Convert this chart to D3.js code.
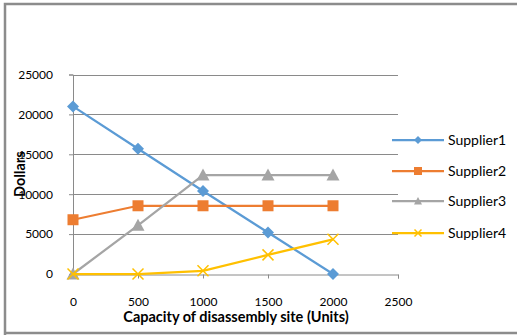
<!DOCTYPE html>
<html>
<head>
<meta charset="utf-8">
<script src="https://cdn.jsdelivr.net/npm/d3@7"></script>
<style>
  html, body { margin: 0; padding: 0; background: #fff; }
  svg { display: block; }
  text { font-family: Lato, "Open Sans", sans-serif; fill: #000; }
</style>
</head>
<body>
<svg id="chart" width="517" height="335"></svg>
<script>
// Capacity values (x) and cost per supplier (y, dollars)
const capacities = [0, 500, 1000, 1500, 2000];
const supplier1 = [21000, 15700, 10400, 5200, 0];
const supplier2 = [6800, 8550, 8550, 8550, 8550];
const supplier3 = [0, 6100, 12400, 12400, 12400];
const supplier4 = [0, 0, 400, 2400, 4350];
const seriesNames = ["Supplier1", "Supplier2", "Supplier3", "Supplier4"];
const seriesColors = ["#5b9bd5", "#ed7d31", "#a5a5a5", "#ffc000"];
const seriesSymbols = ["diamond", "square", "triangle", "cross"];
const xTicks = [0, 500, 1000, 1500, 2000, 2500];
const yTicks = [0, 5000, 10000, 15000, 20000, 25000];

const series = [supplier1, supplier2, supplier3, supplier4].map((vals, i) => ({
  name: seriesNames[i], color: seriesColors[i], symbol: seriesSymbols[i],
  points: vals.map((v, j) => ({ x: capacities[j], y: v }))
}));

const svg = d3.select("#chart");

// Outer frame
svg.append("path")
  .attr("d", "M5,335 L5,4 L517,4 M5,333 L517,333")
  .attr("fill", "none").attr("stroke", "#8c8c8c").attr("stroke-width", 2.5);

const x = d3.scaleLinear().domain([0, 2500]).range([73, 398]);
const y = d3.scaleLinear().domain([0, 25000]).range([274, 74.5]);

// Horizontal gridlines
svg.append("g").selectAll("line").data(yTicks.filter(t => t > 0)).join("line")
  .attr("x1", x(0)).attr("x2", x(2500))
  .attr("y1", d => Math.round(y(d)) + 0.5).attr("y2", d => Math.round(y(d)) + 0.5)
  .attr("stroke", "#8a8a8a").attr("stroke-width", 1);

// Y axis
const yAxis = svg.append("g").attr("transform", `translate(${x(0)},0)`)
  .call(d3.axisLeft(y).tickValues(yTicks).tickSize(4).tickPadding(16).tickFormat(d3.format("d")));
yAxis.select(".domain").attr("stroke", "#8a8a8a");
yAxis.selectAll(".tick line").attr("stroke", "#8a8a8a");
yAxis.selectAll("text").attr("font-size", 12).attr("font-family", "Lato, sans-serif");

// X axis
const xAxis = svg.append("g").attr("transform", `translate(0,${Math.round(y(0)) + 0.5})`)
  .call(d3.axisBottom(x).tickValues(xTicks).tickSize(4).tickPadding(19).tickFormat(d3.format("d")));
xAxis.select(".domain").attr("stroke", "#8a8a8a");
xAxis.selectAll(".tick line").attr("stroke", "#8a8a8a");
xAxis.selectAll("text").attr("font-size", 12).attr("font-family", "Lato, sans-serif");

// Axis titles
svg.append("text")
  .attr("x", 236).attr("y", 322)
  .attr("text-anchor", "middle").attr("font-size", 14.5).attr("font-weight", "bold")
  .text("Capacity of disassembly site (Units)");
svg.append("text")
  .attr("transform", `translate(25,${y(12500)}) rotate(-90)`)
  .attr("text-anchor", "middle").attr("font-size", 14.5).attr("font-weight", "bold")
  .text("Dollars");

const line = d3.line().x(d => x(d.x)).y(d => y(d.y));

function drawMarker(g, kind, color, size) {
  if (kind === "cross") {
    const s = size / 2;
    g.append("path").attr("d", `M${-s},${-s}L${s},${s}M${-s},${s}L${s},${-s}`)
      .attr("stroke", color).attr("stroke-width", 1.5).attr("fill", "none");
  } else if (kind === "diamond") {
    const s = size / 2;
    g.append("path").attr("d", `M0,${-s}L${s},0L0,${s}L${-s},0Z`).attr("fill", color);
  } else if (kind === "square") {
    const s = size / 2;
    g.append("rect").attr("x", -s).attr("y", -s).attr("width", size).attr("height", size).attr("fill", color);
  } else if (kind === "triangle") {
    const s = size / 2;
    g.append("path").attr("d", `M0,${-s}L${s},${s * 0.85}L${-s},${s * 0.85}Z`).attr("fill", color);
  }
}

const markerSize = { diamond: 12, square: 11, triangle: 13, cross: 11 };

series.forEach(s => {
  svg.append("path").datum(s.points)
    .attr("d", line).attr("fill", "none")
    .attr("stroke", s.color).attr("stroke-width", 2.25);
  s.points.forEach(p => {
    const g = svg.append("g").attr("transform", `translate(${x(p.x)},${y(p.y)})`);
    drawMarker(g, s.symbol, s.color, markerSize[s.symbol]);
  });
});

// Legend
const legendY = [140, 171, 201, 233];
series.forEach((s, i) => {
  const g = svg.append("g").attr("transform", `translate(0,${legendY[i]})`);
  g.append("line").attr("x1", 392).attr("x2", 444).attr("y1", 0).attr("y2", 0)
    .attr("stroke", s.color).attr("stroke-width", 2.25);
  const m = g.append("g").attr("transform", "translate(418,0)");
  drawMarker(m, s.symbol, s.color, s.symbol === "cross" ? 7 : 8);
  g.append("text").attr("x", 448).attr("y", 5).attr("font-size", 14).text(s.name);
});
</script>
</body>
</html>
